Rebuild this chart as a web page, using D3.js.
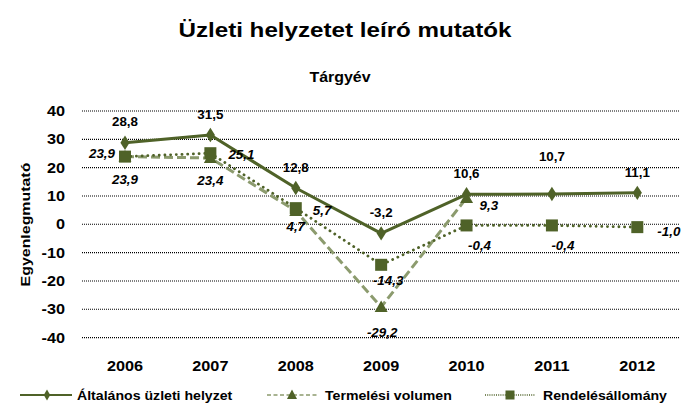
<!DOCTYPE html>
<html><head><meta charset="utf-8">
<script src="https://cdn.jsdelivr.net/npm/d3@7"></script>
<style>
html,body{margin:0;padding:0;background:#fff;}
svg text{font-family:"Liberation Sans",Arial,sans-serif;font-weight:bold;fill:#000;}
</style></head>
<body><svg id="c" width="681" height="403"></svg>
<script>
// ---- data ----
const years = ["2006","2007","2008","2009","2010","2011","2012"];
const altalanos = [28.8, 31.5, 12.8, -3.2, 10.6, 10.7, 11.1];
const termelesi = [23.9, 23.4, 4.7, -29.2, 9.3, null, null];
const rendeles = [23.9, 25.1, 5.7, -14.3, -0.4, -0.4, -1.0];
const yTicks = [-40, -30, -20, -10, 0, 10, 20, 30, 40];
const seriesNames = ["Általános üzleti helyzet", "Termelési volumen", "Rendelésállomány"];
const title = "Üzleti helyzetet leíró mutatók";
const subtitle = "Tárgyév";
const yTitle = "Egyenlegmutató";

// ---- label placement (offsets of label centre from point) ----
const altPlace  = [[0,-21],[0,-21],[0,-21],[0,-21],[0,-21],[0,-37],[0,-20]];
const termPlace = [[0,23],[0,22],[0,16],[1,25],[13,8,"start"],null,null];
const rendPlace = [[-10,-3,"end"],[18,1,"start"],[17,2,"start"],[7,16],[13,20],[11,20],[20,4,"start"]];

const SX = 1.12;
const dark = "#4f6228", light = "#8c9b6e";
const svg = d3.select("#c");

const x = d3.scaleBand().domain(years).range([82.3, 680]);
const cx = d => x(d) + x.bandwidth()/2;
const y = d3.scaleLinear().domain([-40, 40]).range([337.6, 111]);

function txt(g, px, py, s, size, anchor, opts={}) {
  const t = g.append("text")
    .attr("transform", `translate(${px},${py}) ${opts.rot?`rotate(${opts.rot})`:""} scale(${opts.sx||SX},1)`)
    .attr("text-anchor", anchor || "middle")
    .style("font-size", size + "px")
    .text(s);
  if (opts.italic) t.style("font-style", "italic");
  return t;
}

// titles
txt(svg, 345, 37, title, 20.5, "middle", {sx:1.18});
txt(svg, 340, 82, subtitle, 14.5, "middle", {sx:1.1});
txt(svg, 30, 224.5, yTitle, 13.5, "middle", {rot:-90, sx:1.18});

// gridlines
svg.append("g").selectAll("line").data(yTicks).join("line")
  .attr("x1", 82).attr("x2", 680)
  .attr("y1", d => y(d)).attr("y2", d => y(d))
  .attr("stroke", "#000").attr("stroke-width", 1.1).attr("stroke-dasharray", "1,1");

// y axis labels
const yAxis = svg.append("g");
yTicks.forEach(t => txt(yAxis, 65, y(t) + 5, String(t), 14.5, "end"));
// x axis labels
const xAxis = svg.append("g");
years.forEach(yr => txt(xAxis, cx(yr), 371, yr, 14.5, "middle"));

const fmt = v => d3.format(".1f")(v).replace(".", ",").replace("\u2212", "-");

function pts(vals) { return years.map((yr,i)=>({yr, v: vals[i], i})); }

const line = d3.line().defined(d => d.v != null).x(d => cx(d.yr)).y(d => y(d.v));

// series 1: solid with diamonds
svg.append("path").datum(pts(altalanos)).attr("d", line)
  .attr("fill","none").attr("stroke", dark).attr("stroke-width", 3).attr("stroke-linejoin","round");
svg.append("g").selectAll("path").data(pts(altalanos)).join("path")
  .attr("d", d3.symbol(d3.symbolDiamond, 60)())
  .attr("transform", d => `translate(${cx(d.yr)},${y(d.v)}) scale(1.1,1)`)
  .attr("fill", dark);

// series 2: dashed with triangles
svg.append("path").datum(pts(termelesi)).attr("d", line)
  .attr("fill","none").attr("stroke", light).attr("stroke-width", 3).attr("stroke-dasharray","9,4");
svg.append("g").selectAll("path").data(pts(termelesi).filter(d=>d.v!=null)).join("path")
  .attr("d", "M0,-6.5L6.5,5L-6.5,5Z")
  .attr("transform", d => `translate(${cx(d.yr)},${y(d.v)})`)
  .attr("fill", dark);

// series 3: dotted with squares
svg.append("path").datum(pts(rendeles)).attr("d", line)
  .attr("fill","none").attr("stroke", dark).attr("stroke-width", 2.8)
  .attr("stroke-dasharray","0.1,5.6").attr("stroke-linecap","round");
svg.append("g").selectAll("rect").data(pts(rendeles)).join("rect")
  .attr("x", d => cx(d.yr) - 6).attr("y", d => y(d.v) - 6)
  .attr("width", 12).attr("height", 12).attr("fill", dark);

// data labels
const lab = svg.append("g");
function labels(vals, place, italic) {
  vals.forEach((v,i) => {
    if (v == null || !place[i]) return;
    const [dx, dy, anc] = place[i];
    txt(lab, cx(years[i]) + dx, y(v) + dy + 4.5, fmt(v), 12.5, anc || "middle", {sx:1.07, italic});
  });
}
labels(altalanos, altPlace, false);
labels(termelesi, termPlace, true);
labels(rendeles, rendPlace, true);

// legend
const lg = svg.append("g");
const ly = 395;
// item 1
lg.append("line").attr("x1",20).attr("x2",72).attr("y1",ly).attr("y2",ly).attr("stroke",dark).attr("stroke-width",2);
lg.append("path").attr("d", d3.symbol(d3.symbolDiamond, 36)()).attr("transform",`translate(47,${ly})`).attr("fill",dark);
txt(lg, 77, ly + 4.5, seriesNames[0], 12.5, "start", {sx:1.13});
// item 2
lg.append("line").attr("x1",267).attr("x2",318).attr("y1",ly).attr("y2",ly).attr("stroke",light).attr("stroke-width",1.5).attr("stroke-dasharray","4,2.5");
lg.append("path").attr("d","M0,-5.5L5,4L-5,4Z").attr("transform",`translate(292,${ly})`).attr("fill",dark);
txt(lg, 325, ly + 4.5, seriesNames[1], 12.5, "start", {sx:1.13});
// item 3
lg.append("line").attr("x1",485).attr("x2",535).attr("y1",ly).attr("y2",ly).attr("stroke",dark).attr("stroke-width",1.5).attr("stroke-dasharray","1,1.2");
lg.append("rect").attr("x",505.5).attr("y",ly-4.5).attr("width",9).attr("height",9).attr("fill",dark);
txt(lg, 543, ly + 4.5, seriesNames[2], 12.5, "start", {sx:1.13});
</script>
</body></html>
